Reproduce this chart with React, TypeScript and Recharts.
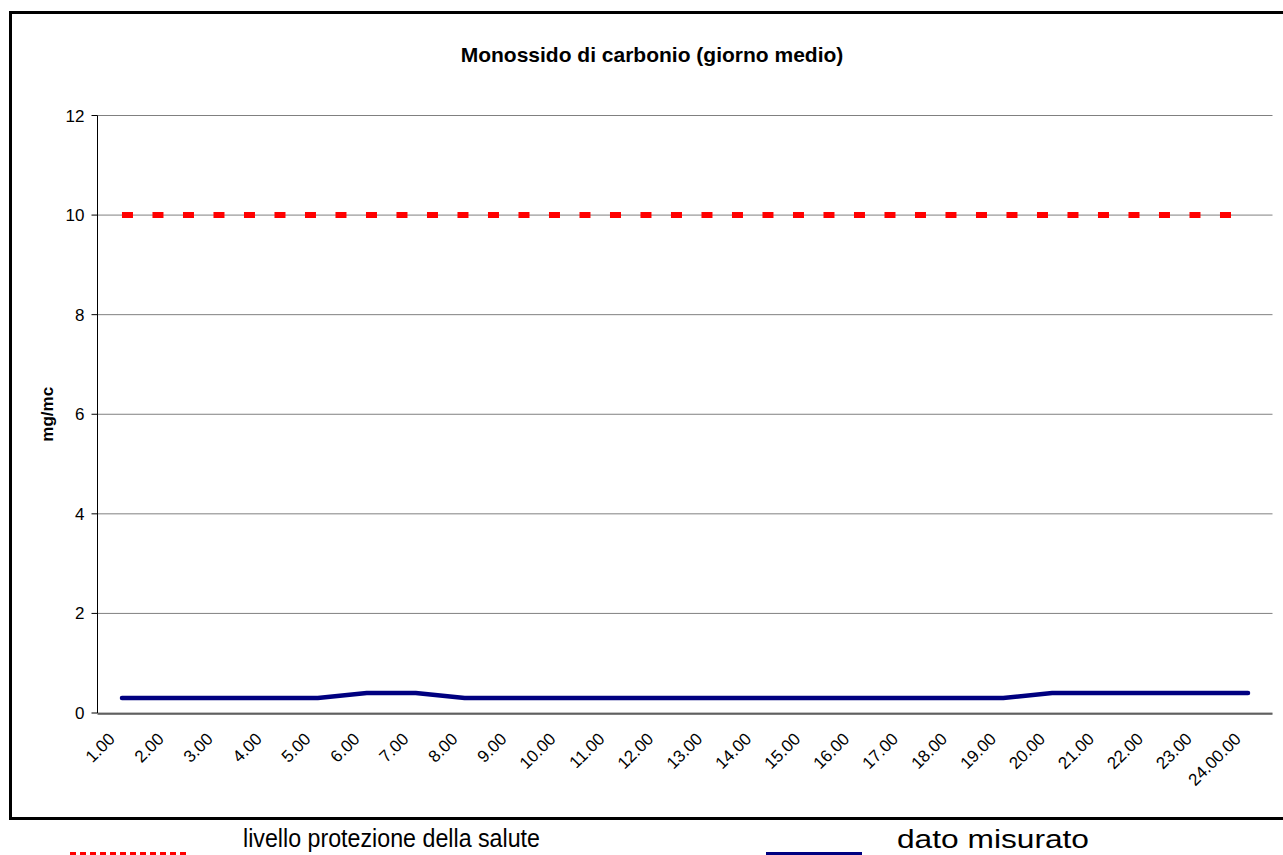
import { LineChart, Line, XAxis, YAxis, CartesianGrid, Legend, ReferenceLine, Label } from "recharts";

// ---------------------------------------------------------------------------
// Data
// ---------------------------------------------------------------------------

const HOURS = [
  "1.00", "2.00", "3.00", "4.00", "5.00", "6.00", "7.00", "8.00",
  "9.00", "10.00", "11.00", "12.00", "13.00", "14.00", "15.00", "16.00",
  "17.00", "18.00", "19.00", "20.00", "21.00", "22.00", "23.00", "24.00.00",
];

// dato misurato (mg/mc)
const MEASURED = [
  0.3, 0.3, 0.3, 0.3, 0.3, 0.4, 0.4, 0.3,
  0.3, 0.3, 0.3, 0.3, 0.3, 0.3, 0.3, 0.3,
  0.3, 0.3, 0.3, 0.4, 0.4, 0.4, 0.4, 0.4,
];

// livello protezione della salute (mg/mc)
const LIMIT = [
  10, 10, 10, 10, 10, 10, 10, 10,
  10, 10, 10, 10, 10, 10, 10, 10,
  10, 10, 10, 10, 10, 10, 10, 10,
];

const Y_TICKS = [0, 2, 4, 6, 8, 10, 12];

// tick marks sit between the hours, as in the original sheet
const HOUR_EDGES = [0, 1, 2, 3, 4, 5, 6, 7, 8, 9, 10, 11, 12, 13, 14, 15, 16, 17, 18, 19, 20, 21, 22, 23, 24];

const TITLE = "Monossido di carbonio (giorno medio)";
const LIMIT_NAME = "livello protezione della salute";
const MEASURED_NAME = "dato misurato";

const FONT = '"Liberation Sans", Arial, Helvetica, sans-serif';

const data = HOURS.map((hour, i) => ({
  hour,
  limite: LIMIT[i],
  misurato: MEASURED[i],
}));

// ---------------------------------------------------------------------------
// Pieces
// ---------------------------------------------------------------------------

function HourTick({ x, y, payload }: { x?: number; y?: number; payload?: { value: string } }) {
  return (
    <g transform={`translate(${x},${y})`}>
      <text
        x={-6}
        y={27}
        textAnchor="end"
        transform="rotate(-45, -6, 27)"
        fontSize={17}
        fontFamily={FONT}
        fill="#000"
      >
        {payload?.value}
      </text>
    </g>
  );
}

function BottomLegend() {
  return (
    <svg width={1283} height={35} style={{ display: "block" }}>
      <line x1={70} x2={189} y1={34.5} y2={34.5} stroke="#ff0000" strokeWidth={5} strokeDasharray="6 4" />
      <text x={243} y={27} fontSize={25} fontFamily={FONT} fill="#000" textLength={297} lengthAdjust="spacingAndGlyphs">
        {LIMIT_NAME}
      </text>
      <line x1={766} x2={862} y1={34.5} y2={34.5} stroke="#000080" strokeWidth={5} />
      <text x={897} y={28} fontSize={25} fontFamily={FONT} fill="#000" textLength={192} lengthAdjust="spacingAndGlyphs">
        {MEASURED_NAME}
      </text>
    </svg>
  );
}

// ---------------------------------------------------------------------------
// Component
// ---------------------------------------------------------------------------

export default function App() {
  return (
    <div
      style={{
        position: "absolute",
        left: 0,
        top: 0,
        width: 1283,
        height: 855,
        overflow: "hidden",
        background: "#fff",
        fontFamily: FONT,
      }}
    >
      {/* outer frame */}
      <div
        style={{
          position: "absolute",
          left: 9,
          top: 11,
          width: 1300,
          height: 803,
          border: "3px solid #000",
        }}
      />

      {/* title */}
      <div
        style={{
          position: "absolute",
          left: 352,
          top: 44,
          width: 600,
          textAlign: "center",
          fontSize: 21,
          lineHeight: "22px",
          fontWeight: "bold",
          color: "#000",
        }}
      >
        {TITLE}
      </div>

      <div style={{ position: "absolute", left: 0, top: 0 }}>
        <LineChart
          width={1283}
          height={855}
          data={data}
          margin={{ top: 115.5, right: 10.5, bottom: 140, left: 0 }}
        >
          <CartesianGrid xAxisId="cat" vertical={false} stroke="#808080" />
          <XAxis
            xAxisId="edge"
            type="number"
            domain={[0, 24]}
            ticks={HOUR_EDGES}
            tick={false}
            tickSize={6}
            stroke="#000"
            height={1}
            allowDataOverflow
          />
          <XAxis
            xAxisId="cat"
            dataKey="hour"
            interval={0}
            padding={{ left: 24.48, right: 24.48 }}
            height={1}
            axisLine={false}
            tickLine={false}
            tickSize={0}
            tickMargin={0}
            tick={<HourTick />}
          />
          <YAxis
            domain={[0, 12]}
            ticks={Y_TICKS}
            width={97.5}
            tickSize={6}
            tickMargin={7}
            stroke="#000"
            tick={{ fill: "#000", fontSize: 17, fontFamily: FONT }}
          >
            <Label
              value="mg/mc"
              angle={-90}
              position="center"
              dx={-2}
              fill="#000"
              fontSize={17}
              fontWeight="bold"
              fontFamily={FONT}
            />
          </YAxis>
          <ReferenceLine xAxisId="edge" x={24} stroke="#808080" strokeWidth={1.5} />
          <Line
            xAxisId="cat"
            dataKey="limite"
            name={LIMIT_NAME}
            stroke="#ff0000"
            strokeWidth={6}
            strokeDasharray="11 19.5"
            dot={false}
            activeDot={false}
            isAnimationActive={false}
          />
          <Line
            xAxisId="cat"
            dataKey="misurato"
            name={MEASURED_NAME}
            stroke="#000080"
            strokeWidth={4.5}
            strokeLinecap="round"
            strokeLinejoin="round"
            dot={false}
            activeDot={false}
            isAnimationActive={false}
          />
          <Legend
            layout="vertical"
            align="center"
            verticalAlign="middle"
            content={() => <BottomLegend />}
            wrapperStyle={{ top: 820, left: 0, width: 1283, height: 35 }}
          />
        </LineChart>
      </div>
    </div>
  );
}
